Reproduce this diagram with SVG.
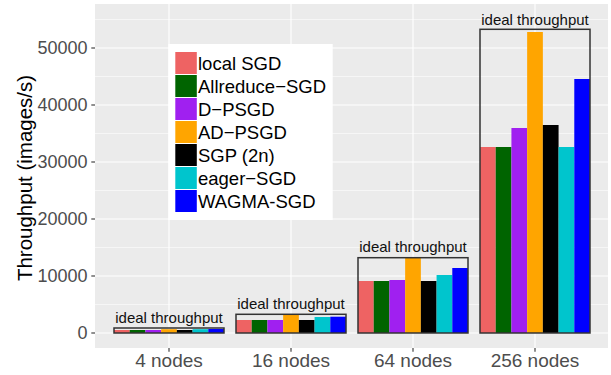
<svg xmlns="http://www.w3.org/2000/svg" width="611" height="375" viewBox="0 0 611 375">
<style>
.maj{stroke:#fff;stroke-width:1.1}
.min{stroke:#fff;stroke-width:0.55}
.tk{stroke:#333;stroke-width:1.1}
.yl{font-family:"Liberation Sans",Arial,sans-serif;font-size:18px;fill:#4D4D4D;text-anchor:end}
.xl{font-family:"Liberation Sans",Arial,sans-serif;font-size:19px;fill:#4D4D4D;text-anchor:middle}
.it{font-family:"Liberation Sans",Arial,sans-serif;font-size:15px;fill:#111;text-anchor:middle}
.lg{font-family:"Liberation Sans",Arial,sans-serif;font-size:18.5px;fill:#000}
.box{fill:none;stroke:#333;stroke-width:1.5}
.c1{fill:#EE6363}.c2{fill:#006400}.c3{fill:#A020F0}.c4{fill:#FFA500}.c5{fill:#000}.c6{fill:#00C5CD}.c7{fill:#0000FF}
</style>
<rect width="611" height="375" fill="#fff"/>
<g id="panel">
<rect x="95" y="4" width="513" height="344" fill="#EBEBEB"/>
<g class="min">
<line x1="95" x2="608" y1="19.5" y2="19.5"/><line x1="95" x2="608" y1="76.5" y2="76.5"/><line x1="95" x2="608" y1="133.5" y2="133.5"/><line x1="95" x2="608" y1="190.5" y2="190.5"/><line x1="95" x2="608" y1="247.5" y2="247.5"/><line x1="95" x2="608" y1="304.5" y2="304.5"/>
</g>
<g class="maj">
<line x1="95" x2="608" y1="48" y2="48"/><line x1="95" x2="608" y1="105" y2="105"/><line x1="95" x2="608" y1="162" y2="162"/><line x1="95" x2="608" y1="219" y2="219"/><line x1="95" x2="608" y1="276" y2="276"/><line x1="95" x2="608" y1="333" y2="333"/>
<line x1="169" x2="169" y1="4" y2="348"/><line x1="291" x2="291" y1="4" y2="348"/><line x1="413" x2="413" y1="4" y2="348"/><line x1="535" x2="535" y1="4" y2="348"/>
</g>
</g>
<g id="axes">
<g class="tk">
<line x1="91.3" x2="95" y1="48" y2="48"/><line x1="91.3" x2="95" y1="105" y2="105"/><line x1="91.3" x2="95" y1="162" y2="162"/><line x1="91.3" x2="95" y1="219" y2="219"/><line x1="91.3" x2="95" y1="276" y2="276"/><line x1="91.3" x2="95" y1="333" y2="333"/>
<line x1="169" x2="169" y1="348" y2="351.7"/><line x1="291" x2="291" y1="348" y2="351.7"/><line x1="413" x2="413" y1="348" y2="351.7"/><line x1="535" x2="535" y1="348" y2="351.7"/>
</g>
<text class="yl" x="87.5" y="54.4">50000</text>
<text class="yl" x="87.5" y="111.4">40000</text>
<text class="yl" x="87.5" y="168.4">30000</text>
<text class="yl" x="87.5" y="225.4">20000</text>
<text class="yl" x="87.5" y="282.4">10000</text>
<text class="yl" x="87.5" y="339.4">0</text>
<text class="xl" x="169" y="366.5">4 nodes</text>
<text class="xl" x="291" y="366.5">16 nodes</text>
<text class="xl" x="413" y="366.5">64 nodes</text>
<text class="xl" x="535" y="366.5">256 nodes</text>
<text font-family="Liberation Sans, Arial, sans-serif" font-size="20.5" fill="#000" text-anchor="middle" transform="translate(31.5,178) rotate(-90)">Throughput (images/s)</text>
</g>
<g id="bars4">
<rect class="c1" x="114" y="330" width="15.71" height="3"/>
<rect class="c2" x="129.71" y="330" width="15.71" height="3"/>
<rect class="c3" x="145.43" y="330" width="15.71" height="3"/>
<rect class="c4" x="161.14" y="329.2" width="15.71" height="3.8"/>
<rect class="c5" x="176.86" y="330" width="15.71" height="3"/>
<rect class="c6" x="192.57" y="329.2" width="15.71" height="3.8"/>
<rect class="c7" x="208.29" y="329" width="15.71" height="4"/>
<rect class="box" x="114" y="328" width="110" height="5"/>
<text class="it" x="169" y="323.3">ideal throughput</text>
</g>
<g id="bars16">
<rect class="c1" x="236" y="320" width="15.71" height="13"/>
<rect class="c2" x="251.71" y="320" width="15.71" height="13"/>
<rect class="c3" x="267.43" y="320" width="15.71" height="13"/>
<rect class="c4" x="283.14" y="314.7" width="15.71" height="18.3"/>
<rect class="c5" x="298.86" y="320" width="15.71" height="13"/>
<rect class="c6" x="314.57" y="317" width="15.71" height="16"/>
<rect class="c7" x="330.29" y="316.7" width="15.71" height="16.3"/>
<rect class="box" x="236" y="314.3" width="110" height="18.7"/>
<text class="it" x="291" y="309">ideal throughput</text>
</g>
<g id="bars64">
<rect class="c1" x="358" y="281" width="15.71" height="52"/>
<rect class="c2" x="373.71" y="281" width="15.71" height="52"/>
<rect class="c3" x="389.43" y="280" width="15.71" height="53"/>
<rect class="c4" x="405.14" y="257.7" width="15.71" height="75.3"/>
<rect class="c5" x="420.86" y="281" width="15.71" height="52"/>
<rect class="c6" x="436.57" y="275" width="15.71" height="58"/>
<rect class="c7" x="452.29" y="268" width="15.71" height="65"/>
<rect class="box" x="358" y="257.7" width="110" height="75.3"/>
<text class="it" x="413" y="251.7">ideal throughput</text>
</g>
<g id="bars256">
<rect class="c1" x="480" y="147" width="15.71" height="186"/>
<rect class="c2" x="495.71" y="147" width="15.71" height="186"/>
<rect class="c3" x="511.43" y="128" width="15.71" height="205"/>
<rect class="c4" x="527.14" y="32" width="15.71" height="301"/>
<rect class="c5" x="542.86" y="125" width="15.71" height="208"/>
<rect class="c6" x="558.57" y="147" width="15.71" height="186"/>
<rect class="c7" x="574.29" y="79" width="15.71" height="254"/>
<rect class="box" x="480" y="29.3" width="110" height="303.7"/>
<text class="it" x="535" y="25">ideal throughput</text>
</g>
<g id="legend">
<rect x="168.3" y="44" width="164.4" height="176" fill="#fff"/>
<rect class="c1" x="175.3" y="52" width="21.5" height="22"/>
<rect class="c2" x="175.3" y="75" width="21.5" height="22"/>
<rect class="c3" x="175.3" y="98" width="21.5" height="22"/>
<rect class="c4" x="175.3" y="121" width="21.5" height="22"/>
<rect class="c5" x="175.3" y="144" width="21.5" height="22"/>
<rect class="c6" x="175.3" y="167" width="21.5" height="22"/>
<rect class="c7" x="175.3" y="190" width="21.5" height="22"/>
<text class="lg" x="198" y="69.5">local SGD</text>
<text class="lg" x="198" y="92.5">Allreduce−SGD</text>
<text class="lg" x="198" y="115.5">D−PSGD</text>
<text class="lg" x="198" y="138.5">AD−PSGD</text>
<text class="lg" x="198" y="161.5">SGP (2n)</text>
<text class="lg" x="198" y="184.5">eager−SGD</text>
<text class="lg" x="198" y="207.5">WAGMA-SGD</text>
</g>
</svg>
